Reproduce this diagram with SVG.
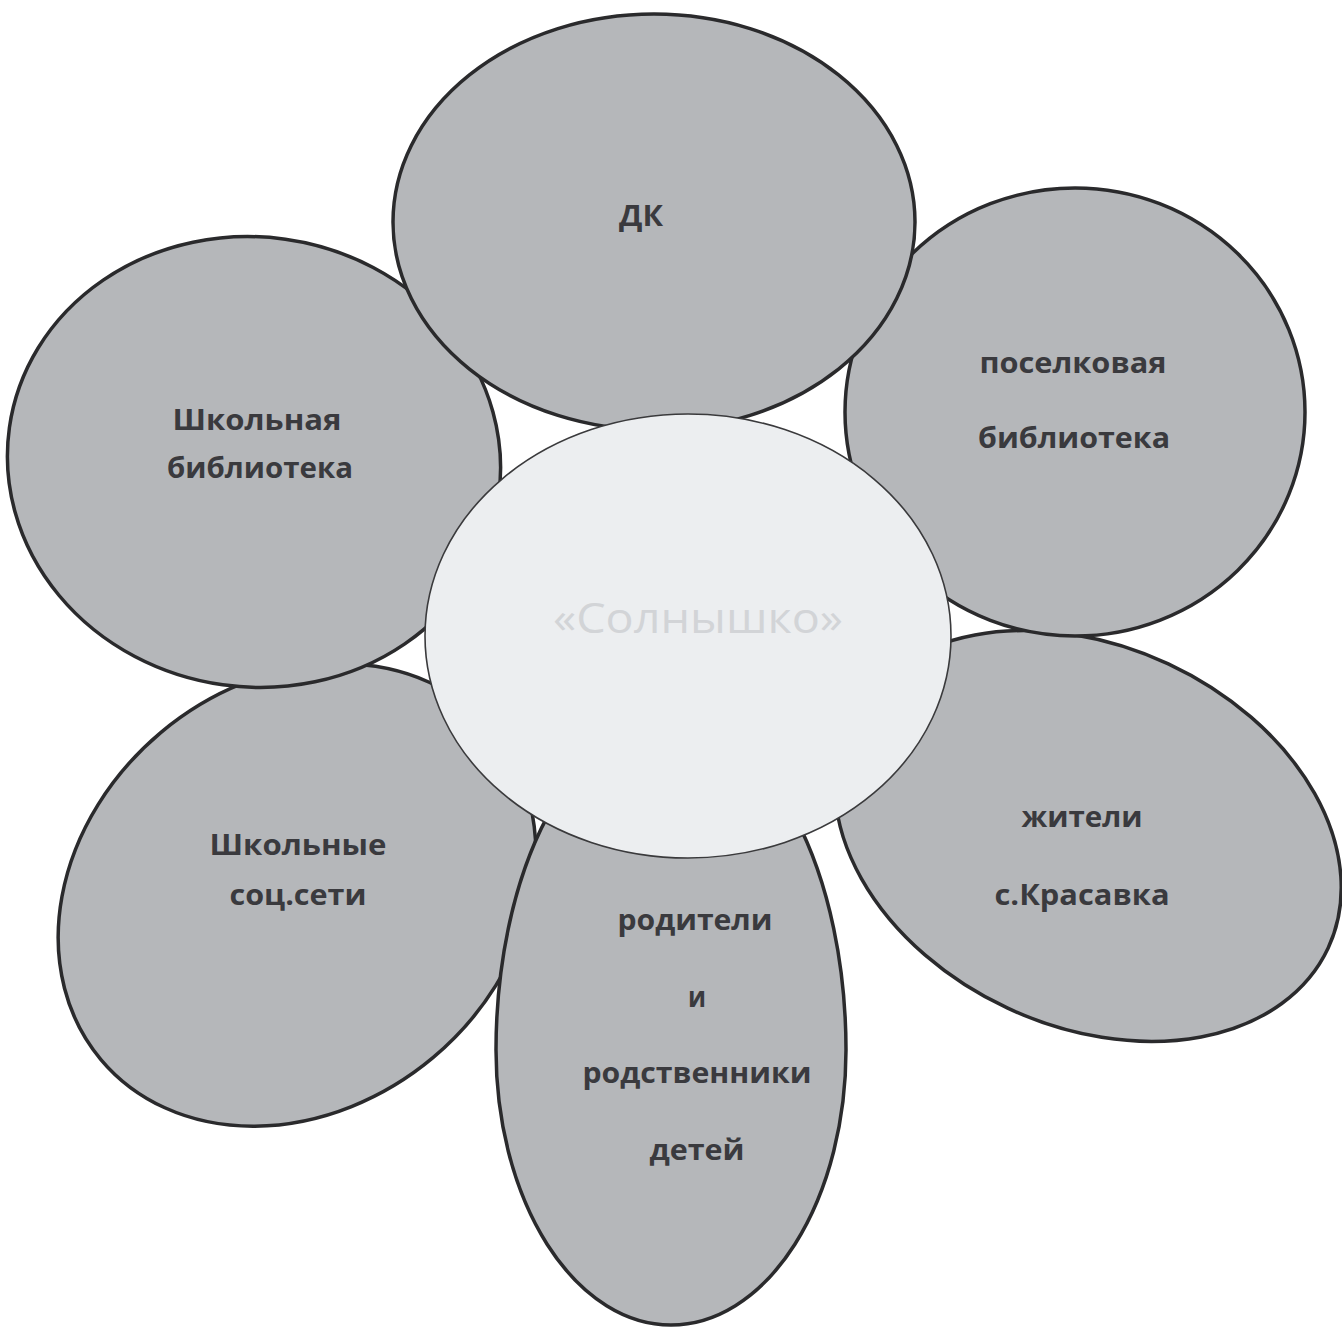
<svg xmlns="http://www.w3.org/2000/svg" width="1342" height="1331" viewBox="0 0 1342 1331">
<style>
.petal{fill:#b5b7ba;stroke:#2a2a2c;stroke-width:3.5}
.core{fill:#eceef0;stroke:#3a3a3c;stroke-width:1.6}
.lbl{font-family:"Open Sans","Liberation Sans",sans-serif;font-weight:700;font-size:28px;fill:#3a3a3e;text-anchor:middle}
.ctr{font-family:"Open Sans","Liberation Sans",sans-serif;font-weight:400;font-size:42px;fill:#d2d4d7;text-anchor:middle}
</style>
<rect width="1342" height="1331" fill="#ffffff"/>
<g id="connectors"></g>
<g id="node-school-net">
<ellipse class="petal" cx="297" cy="895" rx="256" ry="212" transform="rotate(-40 297 895)"/>
<text class="lbl" x="298" y="855" textLength="177" lengthAdjust="spacingAndGlyphs">Школьные</text>
<text class="lbl" x="298" y="905" textLength="137" lengthAdjust="spacingAndGlyphs">соц.сети</text>
</g>
<g id="node-school-lib">
<ellipse class="petal" cx="254" cy="462" rx="247" ry="225" transform="rotate(8 254 462)"/>
<text class="lbl" x="257" y="430" textLength="169" lengthAdjust="spacingAndGlyphs">Школьная</text>
<text class="lbl" x="260" y="478" textLength="186" lengthAdjust="spacingAndGlyphs">библиотека</text>
</g>
<g id="node-residents">
<ellipse class="petal" cx="1088" cy="836" rx="265" ry="190" transform="rotate(25 1088 836)"/>
<text class="lbl" x="1082" y="827" textLength="121" lengthAdjust="spacingAndGlyphs">жители</text>
<text class="lbl" x="1082" y="905" textLength="175" lengthAdjust="spacingAndGlyphs">с.Красавка</text>
</g>
<g id="node-village-lib">
<ellipse class="petal" cx="1075" cy="412" rx="230" ry="224"/>
<text class="lbl" x="1073" y="373" textLength="187" lengthAdjust="spacingAndGlyphs">поселковая</text>
<text class="lbl" x="1074" y="448" textLength="192" lengthAdjust="spacingAndGlyphs">библиотека</text>
</g>
<g id="node-dk">
<ellipse class="petal" cx="654" cy="222" rx="261" ry="208"/>
<text class="lbl" x="641" y="226" textLength="44" lengthAdjust="spacingAndGlyphs">ДК</text>
</g>
<g id="node-parents">
<path class="petal" d="M 496 1050 A 175 275 0 0 0 846 1050 A 175 330 0 0 0 496 1050 Z"/>
<text class="lbl" x="695" y="930" textLength="155" lengthAdjust="spacingAndGlyphs">родители</text>
<text class="lbl" x="697" y="1007" textLength="18" lengthAdjust="spacingAndGlyphs">и</text>
<text class="lbl" x="697" y="1083" textLength="229" lengthAdjust="spacingAndGlyphs">родственники</text>
<text class="lbl" x="697" y="1160" textLength="95" lengthAdjust="spacingAndGlyphs">детей</text>
</g>
<g id="node-center">
<ellipse class="core" cx="688" cy="636" rx="263" ry="222"/>
<text class="ctr" x="698" y="633" textLength="290" lengthAdjust="spacingAndGlyphs">«Солнышко»</text>
</g>
</svg>
